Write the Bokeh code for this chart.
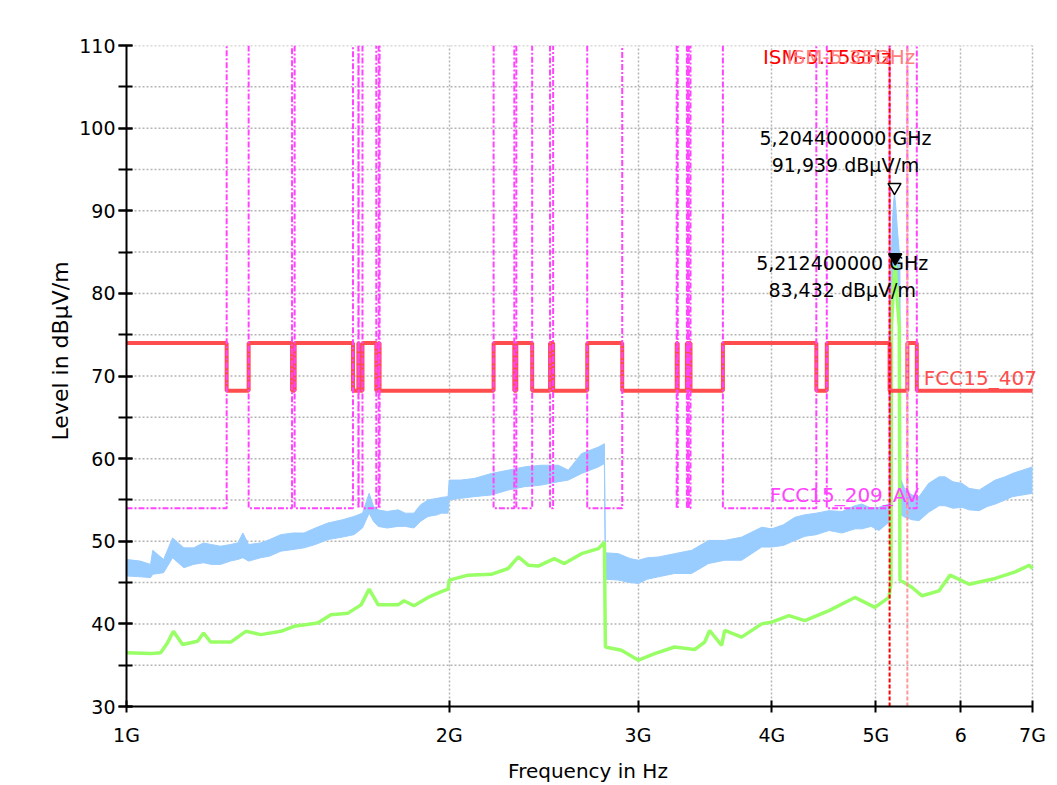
import math
from bokeh.plotting import figure
from bokeh.models import Range1d, FixedTicker, SingleIntervalTicker, Title, Label
from bokeh.embed import file_html
from bokeh.resources import INLINE

# ---------------- data ----------------
# Peak detector trace (light blue): frequency in GHz, lower / upper envelope of the noisy trace (dBuV/m)
pk_freq = [1.000, 1.030, 1.053, 1.058, 1.083, 1.104, 1.131, 1.155, 1.180, 1.200, 1.224, 1.250,
           1.270, 1.284, 1.300, 1.334, 1.360, 1.393, 1.430, 1.464, 1.500, 1.541, 1.590, 1.630,
           1.660, 1.684, 1.700, 1.717, 1.750, 1.792, 1.820, 1.854, 1.880, 1.911, 1.950, 1.966,
           1.995, 2.000, 2.050, 2.110, 2.189, 2.270, 2.350, 2.437, 2.528, 2.583, 2.657, 2.755,
           2.791, 2.797, 2.876, 2.950, 3.003, 3.060, 3.136, 3.245, 3.366, 3.491, 3.614, 3.748,
           3.913, 3.998, 4.100, 4.202, 4.293, 4.400, 4.521, 4.650, 4.780, 4.853, 4.950, 5.033,
           5.143, 5.163, 5.168, 5.180, 5.195, 5.2044, 5.215, 5.235, 5.258, 5.265, 5.275, 5.324,
           5.405, 5.487, 5.600, 5.727, 5.802, 5.900, 6.018, 6.109, 6.243, 6.350, 6.461, 6.600,
           6.704, 6.850, 7.000]
pk_low = [45.8, 45.7, 45.6, 46.0, 46.2, 48.0, 46.8, 47.2, 47.4, 47.2, 47.2, 47.6,
          47.8, 48.0, 47.6, 48.0, 48.2, 48.8, 49.0, 49.2, 49.6, 50.2, 50.5, 50.8,
          51.6, 53.4, 52.4, 51.8, 51.6, 51.8, 51.8, 51.6, 52.4, 53.0, 53.2, 53.4,
          53.4, 55.0, 55.2, 55.4, 55.6, 56.2, 56.6, 56.8, 57.2, 57.4, 58.2, 59.0,
          59.4, 45.4, 45.3, 45.0, 44.9, 45.4, 45.7, 46.1, 46.1, 47.3, 47.7, 47.7,
          49.3, 49.3, 49.5, 50.1, 50.6, 50.8, 51.3, 51.0, 51.5, 51.5, 51.8, 51.3,
          52.3, 52.5, 54.0, 80.0, 84.0, 85.0, 83.0, 81.0, 80.0, 55.0, 53.2, 52.9,
          52.6, 52.5, 53.5, 54.3, 54.3, 54.0, 54.1, 53.8, 53.7, 54.2, 54.5, 55.0,
          55.4, 55.6, 55.8]
pk_high = [47.8, 47.6, 47.2, 48.9, 47.8, 50.4, 49.2, 49.2, 49.8, 49.6, 49.4, 49.6,
           49.8, 51.0, 49.6, 49.8, 50.2, 50.8, 51.0, 51.0, 51.6, 52.2, 52.6, 53.0,
           53.4, 55.8, 54.2, 53.8, 53.6, 53.8, 53.4, 53.4, 54.4, 55.0, 55.2, 55.3,
           55.4, 57.4, 57.4, 57.6, 58.2, 58.6, 59.0, 59.2, 59.2, 58.6, 60.6, 61.4,
           61.8, 48.6, 48.5, 47.9, 47.7, 48.0, 48.1, 48.5, 48.9, 50.1, 50.1, 50.5,
           51.7, 51.5, 52.0, 52.9, 53.2, 53.4, 53.7, 53.6, 54.3, 54.5, 54.0, 54.1,
           54.5, 55.0, 84.0, 88.5, 91.2, 91.939, 91.0, 88.0, 85.0, 84.0, 57.5, 56.2,
           55.6, 55.4, 57.0, 57.8, 57.8, 57.2, 57.0, 56.4, 56.2, 56.8, 57.4, 57.8,
           58.2, 58.6, 59.0]

# Average detector trace (light green)
av_freq = [1.000, 1.053, 1.076, 1.092, 1.106, 1.128, 1.165, 1.180, 1.198, 1.251, 1.292, 1.334,
           1.393, 1.433, 1.508, 1.551, 1.609, 1.655, 1.684, 1.717, 1.792, 1.815, 1.854, 1.911,
           1.966, 1.995, 2.000, 2.083, 2.189, 2.270, 2.320, 2.370, 2.421, 2.506, 2.561, 2.657,
           2.755, 2.791, 2.797, 2.895, 3.003, 3.109, 3.245, 3.388, 3.462, 3.499, 3.590, 3.614,
           3.748, 3.913, 3.998, 4.148, 4.293, 4.521, 4.780, 4.990, 5.143, 5.165, 5.170, 5.195,
           5.2124, 5.230, 5.258, 5.266, 5.405, 5.522, 5.727, 5.865, 6.109, 6.461, 6.746, 6.952,
           7.000]
av_level = [36.5, 36.4, 36.5, 37.7, 39.1, 37.5, 37.9, 38.9, 37.8, 37.8, 39.1, 38.7,
            39.1, 39.7, 40.1, 41.1, 41.3, 42.3, 44.2, 42.3, 42.3, 42.8, 42.2, 43.2,
            43.9, 44.2, 45.3, 45.9, 46.0, 46.7, 48.1, 47.1, 47.0, 47.9, 47.3, 48.5,
            49.1, 49.9, 37.2, 36.8, 35.6, 36.4, 37.2, 36.9, 37.8, 39.2, 37.4, 39.2,
            38.4, 40.0, 40.2, 41.0, 40.4, 41.6, 43.2, 42.0, 43.2, 45.0, 76.0, 81.0,
            83.4, 80.0, 76.0, 45.3, 44.4, 43.4, 44.0, 45.9, 44.8, 45.5, 46.3, 47.1,
            46.7]

# FCC 15.205 restricted bands (GHz)
rb_start = [0.960, 1.300, 1.435, 1.6455, 1.660, 1.7188, 2.200, 2.310, 2.4835, 2.690,
            3.260, 3.332, 3.3458, 3.600, 4.500, 5.350, 7.250]
rb_stop = [1.240, 1.427, 1.6265, 1.6465, 1.710, 1.7222, 2.300, 2.390, 2.500, 2.900,
           3.267, 3.339, 3.358, 4.400, 5.150, 5.460, 7.750]
lim407_restricted = 74.0   # FCC15_407 level inside restricted bands
lim407_other = 68.2        # FCC15_407 level elsewhere
lim209_av = 54.0           # FCC15_209_AV level (restricted bands only)

# ISM lines
ism_freq = [5.15, 5.35]
ism_name = ["ISM-5.15GHz", "ISM-5.35GHz"]

# Markers
mk_freq = [5.2044, 5.2124]
mk_level = [91.939, 83.432]

# Axis ticks
x_ticks = [1, 2, 3, 4, 5, 6, 7]
x_tick_labels = ["1G", "2G", "3G", "4G", "5G", "6", "7G"]
y_grid_step = 5
x_lo, x_hi = 1.0, 7.0
y_lo, y_hi = 30.0, 110.0

# ---------------- figure ----------------
FONT = "DejaVu Sans"
FW, FH = 906, 661          # frame pixels for 1G..7G and 30..110
FW_EXT = 923               # frame extended to the right so the FCC15_407 label is not clipped
x_end = 10 ** (math.log10(x_hi) * FW_EXT / FW)
p = figure(x_axis_type="log", output_backend="svg", toolbar_location=None,
           frame_width=FW_EXT, frame_height=FH,
           min_border_left=126, min_border_right=4, min_border_top=45, min_border_bottom=76,
           x_range=Range1d(x_lo, x_end), y_range=Range1d(y_lo, y_hi),
           background_fill_color="white", border_fill_color="white")
p.outline_line_color = None

# axes
p.xaxis.ticker = FixedTicker(ticks=x_ticks)
p.xaxis.bounds = (x_lo, x_hi)
p.xaxis.major_label_overrides = {float(t): s for t, s in zip(x_ticks, x_tick_labels)}
p.yaxis.ticker = SingleIntervalTicker(interval=10, num_minor_ticks=2)
for ax in (p.xaxis[0], p.yaxis[0]):
    ax.axis_line_color = "black"
    ax.axis_line_width = 2
    ax.major_tick_line_color = "black"
    ax.major_tick_line_width = 2
    ax.minor_tick_line_color = "black"
    ax.minor_tick_line_width = 2
    ax.major_label_text_font = FONT
    ax.major_label_text_font_size = "19px"
    ax.major_label_text_color = "black"
p.xaxis.major_tick_in = 6
p.xaxis.major_tick_out = 6
p.xaxis.minor_tick_in = 0
p.xaxis.minor_tick_out = 0
p.xaxis.major_label_standoff = 11
p.yaxis.major_tick_in = 6
p.yaxis.major_tick_out = 8
p.yaxis.minor_tick_in = 6
p.yaxis.minor_tick_out = 8
p.yaxis.major_label_standoff = 3

p.xaxis.axis_label = "Frequency in Hz"
p.xaxis.axis_label_text_font = FONT
p.xaxis.axis_label_text_font_size = "20px"
p.xaxis.axis_label_text_font_style = "normal"
p.xaxis.axis_label_text_color = "black"
p.xaxis.axis_label_standoff = 10

ylab = Title(text="Level in dBµV/m", align="left", offset=266,
             text_font=FONT, text_font_size="22px", text_font_style="normal",
             text_color="black", standoff=8)
p.add_layout(ylab, "left")

# grid: vertical lines from the axis ticker, horizontal dotted lines drawn only over 1G..7G
GRID = dict(line_color="#B4B4B4", line_dash="2 2", line_width=1.5)
p.xgrid.grid_line_color = GRID["line_color"]
p.xgrid.grid_line_dash = GRID["line_dash"]
p.xgrid.grid_line_width = GRID["line_width"]
p.ygrid.grid_line_color = None
gy = [y_lo + k * y_grid_step for k in range(1, int((y_hi - y_lo) / y_grid_step) + 1)]
p.multi_line(xs=[[x_lo, x_hi] for _ in gy], ys=[[g, g] for g in gy], **GRID)

# ---------------- traces ----------------
p.varea(x=pk_freq, y1=pk_low, y2=pk_high, fill_color="#99CCFF")
p.line(x=pk_freq, y=pk_high, line_color="#99CCFF", line_width=1)
p.line(x=pk_freq, y=pk_low, line_color="#99CCFF", line_width=1)
p.line(x=av_freq, y=av_level, line_color="#99FF66", line_width=3.5)

# FCC15_407 step limit
def in_restricted(f):
    return any(s <= f < e for s, e in zip(rb_start, rb_stop))

edges = sorted(set([x_lo, x_hi] + [e for e in rb_start + rb_stop if x_lo < e < x_hi]))
l407_x, l407_y = [], []
for a, b in zip(edges[:-1], edges[1:]):
    lvl = lim407_restricted if in_restricted((a + b) / 2) else lim407_other
    l407_x += [a, b]
    l407_y += [lvl, lvl]
p.line(x=l407_x, y=l407_y, line_color="#FF4D4D", line_width=4)

# FCC15_209_AV (restricted bands only)
av_xs, av_ys = [], []
for s, e in zip(rb_start, rb_stop):
    if e <= x_lo or s >= x_hi:
        continue
    xs, ys = [], []
    if s > x_lo:
        xs += [s, s]
        ys += [y_hi, lim209_av]
    else:
        xs += [x_lo]
        ys += [lim209_av]
    if e < x_hi:
        xs += [e, e]
        ys += [lim209_av, y_hi]
    else:
        xs += [x_hi]
        ys += [lim209_av]
    av_xs.append(xs)
    av_ys.append(ys)
p.multi_line(xs=av_xs, ys=av_ys, line_color="#FF44FF", line_width=2, line_dash="6 2 2 2")

# ISM lines
ism_colors = ["#FF0000", "#FF9999"]
for f, c in zip(ism_freq, ism_colors):
    p.line(x=[f, f], y=[y_lo, y_hi], line_color=c, line_width=2, line_dash="4 2")


def add_label(x, y, text, color, align, baseline, dx, dy, size="20px"):
    p.add_layout(Label(x=x, y=y, text=text, text_align=align, text_baseline=baseline,
                       x_offset=dx, y_offset=dy, text_color=color, text_font=FONT,
                       text_font_size=size))


add_label(ism_freq[0], y_hi, ism_name[0], "#FF0000", "right", "alphabetic", 2, -11)
add_label(ism_freq[1], y_hi, ism_name[1], "#FF8080", "right", "alphabetic", 8, -11)

# limit labels
add_label(rb_stop[15], lim407_other, "FCC15_407", "#FF4D4D", "left", "alphabetic", 7, 13)
add_label(rb_start[14], lim209_av, "FCC15_209_AV", "#FF44FF", "left", "alphabetic", -57, 13)

# markers (tip of the triangle on the measured point)
MS = 13
px_per_db = FH / (y_hi - y_lo)
tip = MS * math.sqrt(3) / 3 / px_per_db
p.scatter(x=[mk_freq[0]], y=[mk_level[0] + tip], marker="inverted_triangle", size=MS,
          fill_color="white", line_color="black", line_width=1.5)
p.scatter(x=[mk_freq[1]], y=[mk_level[1] + tip], marker="inverted_triangle", size=MS,
          fill_color="black", line_color="black", line_width=1.5)

mk_ftxt = [("%.9f" % f).replace(".", ",") + " GHz" for f in mk_freq]
mk_ltxt = [("%.3f" % l).replace(".", ",") + " dBµV/m" for l in mk_level]
label_dx = [-49, -53]
label_dy1 = [57, 2]
label_dy2 = [30, -25]
for i in range(len(mk_freq)):
    add_label(mk_freq[i], mk_level[i], mk_ftxt[i], "black", "center", "middle",
              label_dx[i], label_dy1[i], "19px")
    add_label(mk_freq[i], mk_level[i], mk_ltxt[i], "black", "center", "middle",
              label_dx[i], label_dy2[i], "19px")

open("out.html", "w").write(file_html(p, INLINE))
